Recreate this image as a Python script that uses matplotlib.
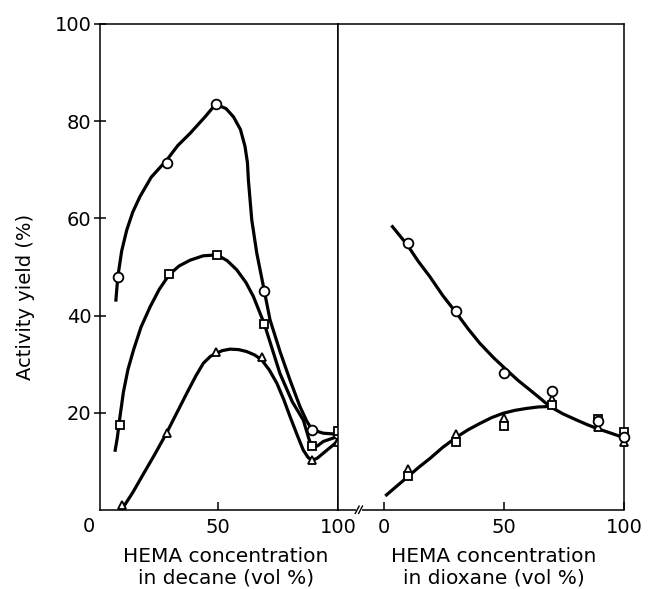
import numpy as np
import matplotlib
matplotlib.use('Agg')
import matplotlib.pyplot as plt

# decane panel: markers
dec_circle_x = [8.7, 29, 49.2, 69.4, 89.3, 100]
dec_circle_y = [48.0, 71.5, 83.5, 45.1, 16.5, 15.6]
dec_square_x = [9.3, 30, 49.8, 69.4, 89.3, 100]
dec_square_y = [17.5, 48.5, 52.5, 38.3, 13.2, 16.3]
dec_tri_x = [10.5, 28.9, 49.2, 68.3, 89.3, 100]
dec_tri_y = [1.0, 15.9, 32.6, 31.4, 10.3, 13.9]

# decane panel: hand-drawn curves
dec_circle_curve_x = [7.8, 8.6, 10.2, 12.3, 14.8, 17.8, 22.5, 28.9, 33.5, 38.6, 45.0, 49.2,
                      53.5, 56.6, 59.5, 61.4, 62.4, 62.8, 64.2, 66.3, 69.4, 71.8, 76.0,
                      80.1, 84.2, 87.0, 89.3, 93.9, 99.7]
dec_circle_curve_y = [43.2, 48.0, 53.3, 57.6, 61.3, 64.5, 68.5, 72.0, 75.0, 77.5, 81.0, 83.5,
                      82.6, 80.9, 78.3, 74.8, 71.5, 67.9, 59.7, 52.8, 45.1, 39.1, 32.5,
                      26.7, 21.3, 18.3, 16.5, 15.8, 15.6]
dec_square_curve_x = [7.5, 8.4, 9.3, 10.9, 12.8, 15.1, 18.2, 22.0, 25.8, 29.9, 34.0, 38.6,
                      44.0, 49.8, 54.0, 58.0, 61.8, 64.9, 69.4, 75.9, 81.0, 85.6, 88.0,
                      89.3, 91.5, 93.9, 99.7]
dec_square_curve_y = [12.3, 14.9, 18.5, 24.2, 28.9, 32.9, 37.6, 41.8, 45.4, 48.4, 50.2, 51.4,
                      52.3, 52.5, 51.3, 49.4, 46.8, 43.9, 38.3, 28.1, 22.3, 18.5, 14.5,
                      12.9, 13.2, 14.1, 15.1]
dec_tri_curve_x = [10.5, 14.8, 19.2, 24.0, 28.9, 33.0, 37.2, 41.0, 44.1, 47.0, 49.2, 52.0,
                   55.2, 58.8, 62.1, 65.4, 68.3, 71.5, 74.6, 77.5, 80.1, 83.0, 85.6,
                   87.6, 89.3, 91.5, 93.9, 98.8, 100]
dec_tri_curve_y = [0.3, 3.6, 7.4, 11.5, 15.9, 19.9, 24.0, 27.6, 30.2, 31.6, 32.2, 32.8,
                   33.1, 33.0, 32.6, 31.9, 30.9, 28.8, 26.1, 22.7, 19.2, 15.5, 12.3,
                   10.8, 10.2, 10.7, 11.7, 13.7, 14.5]

# dioxane panel: markers
diox_x = [10, 30, 50, 70, 89, 100]
diox_circle_y = [54.9, 41.0, 28.1, 24.5, 18.3, 15.1]
diox_square_y = [7.0, 13.9, 17.3, 21.6, 18.8, 16.1]
diox_tri_y = [8.4, 15.6, 18.9, 22.8, 17.0, 13.9]

# dioxane panel: curves
diox_upper_x = [3.5, 9.6, 14.2, 19.1, 24.5, 30.2, 35.0, 39.9, 45.5, 51.1, 56.0, 60.8,
                65.0, 69.1, 74.5, 80.3, 84.5, 88.6, 94.0, 99.3]
diox_upper_y = [58.3, 54.6, 51.2, 48.0, 44.1, 40.5, 37.3, 34.3, 31.4, 28.8, 26.6, 24.7,
                23.0, 21.3, 19.8, 18.5, 17.6, 16.8, 15.9, 15.0]
diox_lower_x = [1.0, 5.5, 10.0, 14.5, 19.1, 24.5, 30.2, 35.0, 39.9, 44.8, 49.6, 54.5,
                59.4, 64.2, 69.1]
diox_lower_y = [3.1, 5.0, 6.9, 8.8, 10.6, 12.9, 15.0, 16.5, 17.8, 19.0, 19.9, 20.5,
                20.9, 21.2, 21.3]

plt.rcParams['font.family'] = ['DejaVu Sans']
W, H = 650, 589
fig = plt.figure(figsize=(6.5, 5.89), dpi=100)

bot = 1 - 510 / H
hgt = 486 / H
ax1 = fig.add_axes([100 / W, bot, 238 / W, hgt])
ax2 = fig.add_axes([338 / W, bot, 286 / W, hgt])

LW = 2.3
MS = 7
mk = dict(ls='none', mfc='white', mec='black', mew=1.3, zorder=3, clip_on=False)

for ax in (ax1, ax2):
    ax.set_ylim(0, 100)
    for s in ax.spines.values():
        s.set_linewidth(1.1)

ax1.set_xlim(1.2, 100)
ax2.set_xlim(-19.2, 100)

# curves
ax1.plot(dec_circle_curve_x, dec_circle_curve_y, 'k-', lw=LW, solid_joinstyle='round', zorder=2)
ax1.plot(dec_square_curve_x, dec_square_curve_y, 'k-', lw=LW, solid_joinstyle='round', zorder=2)
ax1.plot(dec_tri_curve_x, dec_tri_curve_y, 'k-', lw=LW, solid_joinstyle='round', zorder=2,
         clip_on=False)
ax2.plot(diox_upper_x, diox_upper_y, 'k-', lw=LW, solid_joinstyle='round', zorder=2)
ax2.plot(diox_lower_x, diox_lower_y, 'k-', lw=LW, solid_joinstyle='round', zorder=2)

# markers
ax1.plot(dec_circle_x, dec_circle_y, marker='o', ms=MS, **mk)
ax1.plot(dec_square_x, dec_square_y, marker='s', ms=MS - 0.8, **mk)
ax1.plot(dec_tri_x, dec_tri_y, marker='^', ms=MS - 1, **mk)
ax2.plot(diox_x, diox_tri_y, marker='^', ms=MS - 1, **mk)
ax2.plot(diox_x, diox_square_y, marker='s', ms=MS - 0.8, **mk)
ax2.plot(diox_x, diox_circle_y, marker='o', ms=MS, **mk)

# ticks
ax1.set_yticks([20, 40, 60, 80, 100])
ax1.tick_params(axis='y', direction='inout', length=8, width=1.1, pad=2, labelsize=14)
ax1.set_xticks([50, 100])
ax1.tick_params(axis='x', direction='in', length=6, width=1.1, pad=6, labelsize=14)
ax1.text(-3.5, -1.4, '0', fontsize=14, ha='center', va='top', clip_on=False)

ax2.set_yticks([])
ax2.set_xticks([0, 50, 100])
ax2.tick_params(axis='x', direction='in', length=6, width=1.1, pad=6, labelsize=14)

# axis break on the bottom line of the dioxane panel
ax2.spines['bottom'].set_visible(False)
ax2.plot([-19.2, -11.6], [0, 0], 'k-', lw=1.1, clip_on=False, solid_capstyle='butt')
ax2.plot([-9.4, 100], [0, 0], 'k-', lw=1.1, clip_on=False, solid_capstyle='butt')
ax2.plot([-12.0, -10.4], [-0.7, 0.8], 'k-', lw=1.0, clip_on=False)
ax2.plot([-10.6, -9.0], [-0.7, 0.8], 'k-', lw=1.0, clip_on=False)

fig.text(26 / W, 1 - 297 / H, 'Activity yield (%)', rotation=90, ha='center', va='center',
         fontsize=14)
fig.text(226 / W, 1 - 567 / H, 'HEMA concentration\nin decane (vol %)', ha='center',
         va='center', fontsize=14.5, linespacing=1.2)
fig.text(494 / W, 1 - 567 / H, 'HEMA concentration\nin dioxane (vol %)', ha='center',
         va='center', fontsize=14.5, linespacing=1.2)

fig.savefig('out.png', dpi=100)
